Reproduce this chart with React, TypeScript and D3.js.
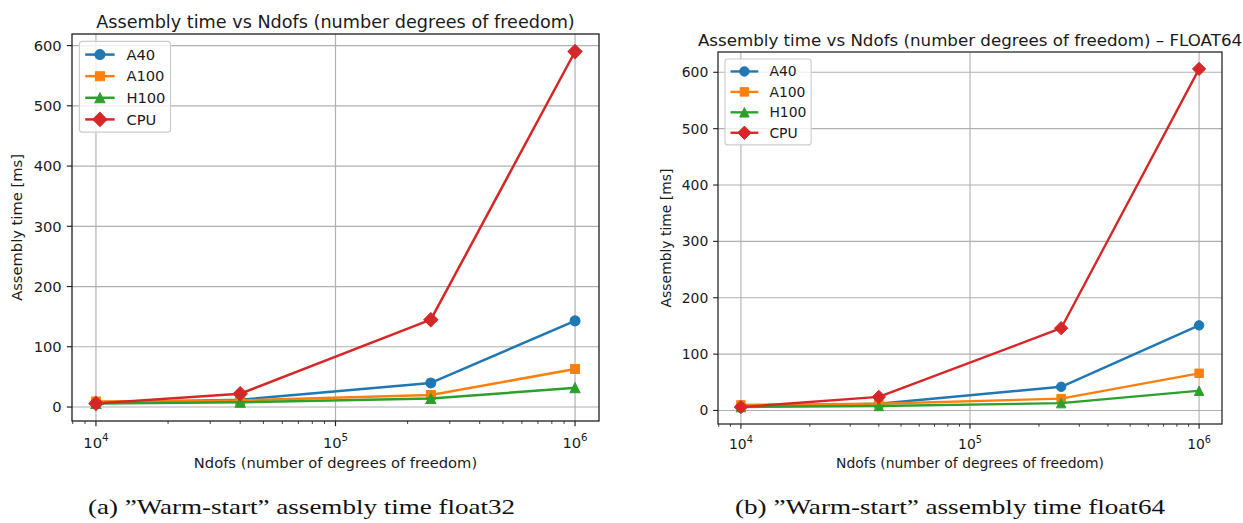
import React from "react";
import * as d3 from "d3";

// x values: number of degrees of freedom
const ndofs = [1e4, 4e4, 2.5e5, 1e6];
const deviceNames = ["A40", "A100", "H100", "CPU"];
const colors = ["#1f77b4", "#ff7f0e", "#2ca02c", "#d62728"];
const markers = ["circle", "square", "triangle", "diamond"];

// float32 assembly times [ms]
const f32A40 = [7, 12, 40, 143];
const f32A100 = [9, 11, 20, 63];
const f32H100 = [6, 8, 14, 32];
const f32CPU = [6, 22, 145, 590];

// float64 assembly times [ms]
const f64A40 = [7, 12, 42, 151];
const f64A100 = [10, 12, 21, 66];
const f64H100 = [6, 8, 13, 35];
const f64CPU = [6, 24, 146, 606];

const yTicks = [0, 100, 200, 300, 400, 500, 600];
const xTickExps = [4, 5, 6];

const FONT = "'DejaVu Sans', sans-serif";
const INK = "#1a1a1a";

function markerPath(kind: string, cx: number, cy: number, ms: number) {
  const h = ms / 2;
  const p = d3.path();
  if (kind === "circle") {
    p.arc(cx, cy, h, 0, Math.PI * 2);
  } else if (kind === "square") {
    p.rect(cx - h * 0.9, cy - h * 0.9, h * 1.8, h * 1.8);
  } else if (kind === "triangle") {
    p.moveTo(cx, cy - h);
    p.lineTo(cx + h, cy + h);
    p.lineTo(cx - h, cy + h);
  } else {
    const d = h * 1.414;
    p.moveTo(cx, cy - d);
    p.lineTo(cx + d, cy);
    p.lineTo(cx, cy + d);
    p.lineTo(cx - d, cy);
  }
  p.closePath();
  return p.toString();
}

type Box = { l: number; r: number; t: number; b: number };

function Chart({ series, box, s, title }: { series: number[][]; box: Box; s: number; title: string }) {
  const fs = 10 * s;
  const x = d3.scaleLog().domain([10 ** 3.9, 10 ** 6.1]).range([box.l, box.r]);
  const [lo, hi] = d3.extent(series.flat()) as [number, number];
  const pad = (hi - lo) * 0.05;
  const y = d3.scaleLinear().domain([lo - pad, hi + pad]).range([box.b, box.t]);
  const line = d3
    .line<number>()
    .x((_, i) => x(ndofs[i]))
    .y((d) => y(d));

  const [d0, d1] = x.domain();
  const minor: number[] = [];
  for (let k = 3; k <= 6; k++)
    for (let m = 2; m <= 9; m++) {
      const v = m * 10 ** k;
      if (v >= d0 && v <= d1) minor.push(v);
    }

  const ms = 6.8 * s;
  const lw = 1.7 * s;
  const tickLen = 3.5 * s;
  const cx = (box.l + box.r) / 2;
  const cy = (box.t + box.b) / 2;

  // legend geometry
  const lgX = box.l + 0.5 * fs;
  const lgY = box.t + 0.5 * fs;
  const rowH = 1.47 * fs;
  const lgW = 6.2 * fs;
  const lgH = 0.8 * fs + 4 * rowH - 0.5 * fs;

  return (
    <g>
      {/* grid */}
      {xTickExps.map((e) => (
        <line key={"gx" + e} x1={x(10 ** e)} x2={x(10 ** e)} y1={box.t} y2={box.b} stroke="#b0b0b0" strokeWidth={0.8 * s} />
      ))}
      {yTicks.map((v) => (
        <line key={"gy" + v} x1={box.l} x2={box.r} y1={y(v)} y2={y(v)} stroke="#b0b0b0" strokeWidth={0.8 * s} />
      ))}

      {/* series */}
      {series.map((vals, si) => (
        <g key={"s" + si}>
          <path d={line(vals) || ""} fill="none" stroke={colors[si]} strokeWidth={lw} strokeLinejoin="round" strokeLinecap="square" />
          {vals.map((v, i) => (
            <path key={i} d={markerPath(markers[si], x(ndofs[i]), y(v), ms)} fill={colors[si]} stroke={colors[si]} strokeWidth={s * 0.7} />
          ))}
        </g>
      ))}

      {/* spines */}
      <rect x={box.l} y={box.t} width={box.r - box.l} height={box.b - box.t} fill="none" stroke="#222" strokeWidth={0.9 * s} />

      {/* y ticks */}
      {yTicks.map((v) => (
        <g key={"yt" + v}>
          <line x1={box.l - tickLen} x2={box.l} y1={y(v)} y2={y(v)} stroke="#222" strokeWidth={0.8 * s} />
          <text x={box.l - tickLen - 3.5 * s} y={y(v)} dy="0.36em" textAnchor="end" fontSize={fs} fontFamily={FONT} fill={INK}>
            {v}
          </text>
        </g>
      ))}

      {/* x ticks */}
      {minor.map((v) => (
        <line key={"mx" + v} x1={x(v)} x2={x(v)} y1={box.b} y2={box.b + 2 * s} stroke="#222" strokeWidth={0.6 * s} />
      ))}
      {xTickExps.map((e) => (
        <g key={"xt" + e}>
          <line x1={x(10 ** e)} x2={x(10 ** e)} y1={box.b} y2={box.b + tickLen} stroke="#222" strokeWidth={0.8 * s} />
          <text x={x(10 ** e)} y={box.b + 18.3 * s} textAnchor="middle" fontSize={fs} fontFamily={FONT} fill={INK}>
            10
            <tspan fontSize={fs * 0.7} dy={-0.45 * fs}>
              {e}
            </tspan>
          </text>
        </g>
      ))}

      {/* labels */}
      <text x={cx} y={box.b + 32 * s} textAnchor="middle" fontSize={fs} fontFamily={FONT} fill={INK}>
        Ndofs (number of degrees of freedom)
      </text>
      <text transform={`translate(${box.l - 34 * s},${cy}) rotate(-90)`} textAnchor="middle" fontSize={fs} fontFamily={FONT} fill={INK}>
        Assembly time [ms]
      </text>
      <text x={cx} y={box.t - 4.2 * s} textAnchor="middle" fontSize={fs * 1.2} fontFamily={FONT} fill={INK}>
        {title}
      </text>

      {/* legend */}
      <rect x={lgX} y={lgY} width={lgW} height={lgH} rx={0.2 * fs} fill="white" fillOpacity={0.8} stroke="#cccccc" strokeWidth={s * 0.8} />
      {deviceNames.map((name, i) => {
        const ry = lgY + 0.4 * fs + 0.5 * fs + i * rowH;
        const hx0 = lgX + 0.4 * fs;
        const hx1 = hx0 + 2 * fs;
        return (
          <g key={"lg" + name}>
            <line x1={hx0} x2={hx1} y1={ry} y2={ry} stroke={colors[i]} strokeWidth={lw} />
            <path d={markerPath(markers[i], (hx0 + hx1) / 2, ry, ms)} fill={colors[i]} stroke={colors[i]} strokeWidth={s * 0.7} />
            <text x={hx1 + 0.8 * fs} y={ry} dy="0.36em" fontSize={fs} fontFamily={FONT} fill={INK}>
              {name}
            </text>
          </g>
        );
      })}
    </g>
  );
}

export default function App() {
  const W = 1243;
  const H = 523;
  return (
    <svg width={W} height={H} style={{ position: "absolute", left: 0, top: 0 }}>
      <rect width={W} height={H} fill="white" />
      <Chart
        series={[f32A40, f32A100, f32H100, f32CPU]}
        box={{ l: 72, r: 599, t: 34, b: 421 }}
        s={1.47}
        title="Assembly time vs Ndofs (number degrees of freedom)"
      />
      <Chart
        series={[f64A40, f64A100, f64H100, f64CPU]}
        box={{ l: 718, r: 1222, t: 52, b: 424 }}
        s={1.39}
        title="Assembly time vs Ndofs (number degrees of freedom) – FLOAT64"
      />
      <text x={88} y={514} textLength={427} lengthAdjust="spacingAndGlyphs" fontSize={21} fontFamily="'Liberation Serif', serif" fill="#111">
        (a) ”Warm-start” assembly time float32
      </text>
      <text x={735} y={514} textLength={430} lengthAdjust="spacingAndGlyphs" fontSize={21} fontFamily="'Liberation Serif', serif" fill="#111">
        (b) ”Warm-start” assembly time float64
      </text>
    </svg>
  );
}
